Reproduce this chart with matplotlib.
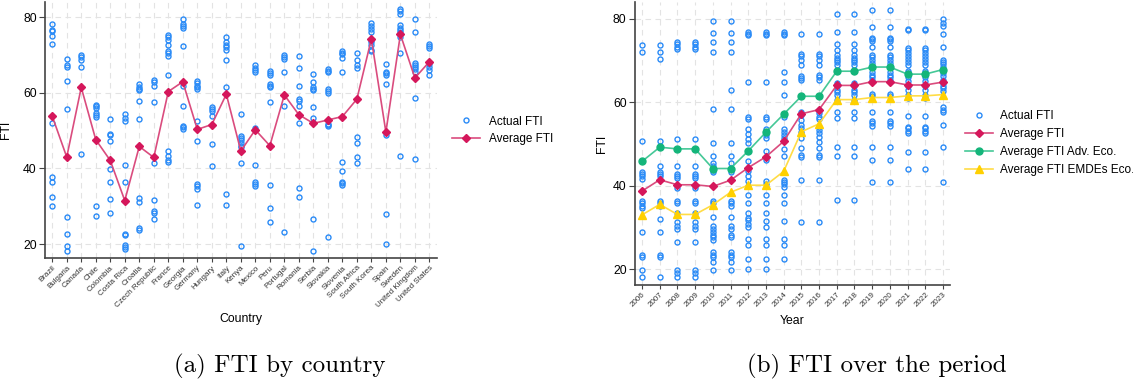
import matplotlib
matplotlib.use("Agg")
import matplotlib.pyplot as plt
import numpy as np

plt.rcParams["font.family"] = ["Liberation Sans", "DejaVu Sans"]

# FTI by country
countries = [
    "Brazil", "Bulgaria", "Canada", "Chile", "Colombia", "Costa Rica", "Croatia",
    "Czech Republic", "France", "Georgia", "Germany", "Hungary", "Italy", "Kenya",
    "Mexico", "Peru", "Portugal", "Romania", "Serbia", "Slovakia", "Slovenia",
    "South Africa", "South Korea", "Spain", "Sweden", "United Kingdom", "United States",
]
actual_by_country = [
    [78.2, 76.6, 76.4, 75.1, 72.9, 52.1, 37.8, 36.3, 32.5, 30.1],
    [68.9, 67.2, 66.7, 63.1, 55.6, 27.1, 22.7, 19.6, 18.2],
    [69.9, 69.4, 68.7, 66.7, 43.9],
    [56.7, 56.4, 56.0, 54.6, 54.1, 53.7, 30.1, 27.3],
    [53.0, 49.2, 48.9, 47.3, 39.8, 36.4, 31.9, 28.1],
    [54.4, 53.4, 52.5, 40.8, 36.5, 31.4, 22.8, 22.3, 19.7, 19.2, 18.8],
    [62.4, 61.5, 60.9, 60.6, 57.7, 53.0, 32.2, 31.0, 24.2, 23.7],
    [63.4, 62.9, 61.8, 57.6, 41.3, 31.6, 28.8, 28.1, 26.5],
    [75.2, 74.7, 73.9, 72.5, 71.1, 70.6, 69.8, 64.6, 44.7, 43.3, 42.3, 41.7],
    [79.6, 78.1, 77.6, 77.2, 72.4, 61.9, 56.4, 51.2, 50.9, 50.4],
    [63.1, 62.5, 61.9, 61.5, 60.9, 52.4, 47.2, 35.8, 35.3, 34.6, 30.2],
    [56.2, 55.7, 55.2, 53.9, 46.5, 40.7],
    [74.6, 73.4, 72.7, 72.1, 71.4, 68.7, 61.6, 33.3, 30.3],
    [54.5, 48.6, 48.1, 47.4, 46.8, 46.0, 45.7, 41.3, 19.6],
    [67.4, 66.6, 66.1, 65.5, 50.8, 40.9, 36.5, 36.0, 35.4],
    [65.7, 65.3, 64.8, 62.4, 61.9, 61.5, 57.5, 35.6, 29.5, 25.8],
    [69.9, 69.4, 69.0, 65.5, 56.5, 23.3],
    [69.8, 66.6, 61.9, 58.4, 57.7, 56.5, 52.1, 34.8, 32.5],
    [65.0, 62.9, 61.5, 61.0, 60.6, 56.1, 53.4, 26.5, 18.1],
    [66.2, 65.8, 65.4, 60.9, 60.5, 60.0, 51.8, 51.4, 51.1, 21.8],
    [71.1, 70.6, 70.2, 69.3, 65.6, 41.7, 39.3, 36.5, 36.1, 35.6],
    [70.5, 68.7, 67.3, 66.6, 48.4, 46.8, 43.1, 41.5],
    [78.4, 77.7, 76.9, 76.1, 74.0, 73.3, 72.6, 71.4, 70.9],
    [67.7, 65.6, 65.2, 64.8, 62.4, 48.8, 28.0, 19.9],
    [82.1, 81.5, 80.8, 77.9, 77.2, 76.6, 76.0, 74.7, 70.5, 43.2],
    [79.6, 76.0, 67.8, 67.3, 66.8, 66.2, 65.6, 58.6, 42.4],
    [72.9, 72.3, 71.7, 67.6, 66.9, 66.1, 64.7],
]
avg_by_country = [
    53.8, 43.0, 61.4, 47.6, 42.1, 31.5, 45.8, 42.9, 60.3, 62.9, 50.3, 51.6, 59.6, 44.6,
    50.2, 46.0, 59.4, 54.2, 51.9, 52.8, 53.7, 58.3, 74.2, 49.6, 75.4, 63.9, 68.2,
]

# FTI over the period
years = [str(y) for y in range(2006, 2024)]
actual_by_year = [
    [73.6, 72.0, 50.7, 43.3, 42.9, 42.3, 41.7, 36.3, 35.8, 35.2, 34.7, 28.8, 23.5, 22.9, 19.7, 18.2],
    [73.6, 72.0, 70.4, 50.7, 44.7, 43.3, 42.9, 42.3, 36.3, 35.8, 35.2, 31.9, 28.8, 23.5, 22.9, 18.2],
    [74.3, 73.8, 73.3, 72.7, 51.1, 44.7, 42.8, 42.3, 41.8, 39.4, 36.4, 35.8, 33.4, 31.2, 30.4, 29.7,
     26.5, 19.8, 19.0, 18.2],
    [74.3, 73.8, 73.3, 72.7, 51.1, 44.7, 42.8, 42.3, 41.8, 39.4, 36.4, 35.8, 33.4, 31.2, 30.4, 29.7,
     26.5, 19.8, 19.0, 18.2],
    [79.5, 76.5, 74.3, 72.0, 58.3, 50.3, 47.0, 45.4, 44.6, 43.8, 43.2, 36.4, 35.8, 32.5, 30.4, 29.7,
     28.9, 28.1, 27.6, 26.9, 24.1, 23.5, 22.9, 21.8, 19.7],
    [79.5, 76.5, 74.3, 72.0, 62.9, 58.3, 50.3, 47.0, 45.4, 44.1, 43.2, 36.4, 35.8, 35.2, 32.5, 30.4,
     29.7, 28.1, 27.6, 24.1, 23.5, 22.9, 21.8, 19.7],
    [76.8, 76.4, 76.0, 64.8, 56.5, 56.0, 53.5, 52.4, 51.2, 50.3, 48.4, 45.8, 43.6, 42.2, 41.0, 39.9,
     37.8, 35.9, 33.4, 32.2, 31.8, 30.8, 30.2, 27.2, 25.8, 22.4, 20.0],
    [76.8, 76.4, 76.0, 64.8, 56.5, 56.0, 53.6, 52.9, 52.1, 51.4, 48.4, 46.8, 46.1, 41.0, 40.4, 37.8,
     35.9, 33.4, 31.6, 30.2, 27.2, 25.8, 22.4, 20.0],
    [76.8, 76.4, 76.0, 67.3, 64.8, 61.7, 56.5, 53.6, 52.9, 52.2, 51.5, 50.8, 48.8, 47.2, 41.4, 40.9,
     40.4, 39.6, 37.8, 35.9, 31.6, 27.2, 25.8, 22.4],
    [76.3, 71.6, 71.0, 70.2, 68.8, 66.2, 65.8, 65.3, 61.4, 57.7, 56.9, 55.7, 54.6, 53.7, 52.9, 51.3,
     48.9, 47.4, 46.8, 41.3, 31.2],
    [76.3, 71.6, 71.0, 70.2, 68.8, 66.5, 65.9, 65.3, 61.4, 58.2, 57.4, 56.5, 55.9, 54.1, 53.3, 52.5,
     51.6, 50.5, 48.9, 47.4, 46.8, 41.3, 31.2],
    [81.0, 76.7, 74.0, 72.4, 71.2, 70.5, 70.0, 69.6, 69.0, 67.4, 64.6, 63.8, 63.0, 62.4, 61.7, 60.5,
     57.7, 56.1, 49.2, 47.2, 36.5],
    [81.0, 76.7, 74.0, 72.4, 71.2, 70.5, 70.0, 69.6, 69.0, 67.4, 64.6, 63.8, 63.0, 62.4, 61.7, 60.5,
     57.7, 56.1, 49.2, 47.2, 36.5],
    [82.0, 77.9, 75.4, 75.0, 74.6, 73.1, 71.2, 70.7, 70.0, 69.4, 68.7, 67.3, 66.5, 65.9, 65.3, 61.9,
     61.4, 57.6, 55.5, 54.9, 54.3, 49.2, 46.1, 40.8],
    [82.0, 77.9, 75.4, 75.0, 74.6, 73.1, 71.2, 70.7, 70.0, 69.4, 68.7, 67.3, 66.5, 65.9, 65.3, 61.9,
     61.4, 57.6, 55.5, 54.9, 54.3, 49.2, 46.1, 40.8],
    [77.6, 77.2, 73.0, 72.4, 71.8, 71.1, 70.4, 69.6, 69.0, 67.5, 66.9, 65.9, 65.1, 63.8, 62.9, 61.7,
     60.9, 56.6, 54.1, 53.7, 53.1, 52.5, 48.1, 43.9],
    [77.6, 77.2, 73.0, 72.4, 71.8, 71.1, 70.4, 69.6, 69.0, 67.5, 66.9, 65.9, 65.1, 63.8, 62.9, 61.7,
     60.9, 56.6, 54.1, 53.7, 53.1, 52.5, 48.1, 43.9],
    [79.8, 79.0, 78.2, 76.2, 73.2, 70.0, 69.6, 69.2, 68.4, 67.8, 67.0, 66.2, 65.4, 64.6, 63.8, 63.4,
     62.7, 58.9, 58.2, 57.6, 54.5, 49.2, 40.8],
]
avg_by_year = [38.7, 41.4, 40.2, 40.2, 39.8, 41.3, 44.3, 46.9, 50.6, 57.2, 58.2, 64.0, 64.0,
               64.9, 64.9, 64.1, 64.1, 64.8]
adv_by_year = [45.8, 49.2, 48.8, 48.8, 44.1, 44.1, 48.3, 52.8, 57.1, 61.4, 61.4, 67.4, 67.4,
               68.4, 68.4, 66.7, 66.7, 67.8]
emde_by_year = [33.0, 35.5, 33.1, 33.1, 35.4, 38.4, 40.1, 40.1, 43.4, 52.9, 54.8, 60.6, 60.6,
                61.1, 61.1, 61.5, 61.5, 61.8]

BLUE = "#2A8BF7"
RED = "#D5175B"
RED_LINE = "#DA4C7E"
GREEN = "#14B57A"
GREEN_LINE = "#45C897"
YELLOW = "#FFD000"
YELLOW_LINE = "#FFDC45"
SPINE = "#444444"
FS = 8.5


def scatter_groups(ax, groups):
    xs, ys = [], []
    for i, vals in enumerate(groups):
        xs.extend([i] * len(vals))
        ys.extend(vals)
    ax.plot(xs, ys, linestyle="none", marker="o", markersize=3.6, markerfacecolor="none",
            markeredgecolor=BLUE, markeredgewidth=1.0, label="Actual FTI", zorder=2)


def style_axes(ax, labels, ylim):
    ax.set_xticks(np.arange(len(labels)))
    ax.set_xticklabels(labels, rotation=45, ha="right", rotation_mode="anchor", fontsize=5.8,
                       color="#333333")
    ax.set_yticks([20, 40, 60, 80])
    ax.tick_params(axis="y", labelsize=FS + 0.3, length=4, width=0.8, color=SPINE, pad=2)
    ax.tick_params(axis="x", length=3, width=0.8, color=SPINE, pad=1.5)
    ax.set_xlim(-0.5, len(labels) - 0.5)
    ax.set_ylim(*ylim)
    ax.grid(True, color="#E3E3E3", linestyle=(0, (5, 4)), linewidth=0.8)
    ax.set_axisbelow(True)
    for side in ("top", "right"):
        ax.spines[side].set_visible(False)
    for side in ("left", "bottom"):
        ax.spines[side].set_color(SPINE)
        ax.spines[side].set_linewidth(1.2)
    ax.set_ylabel("FTI", fontsize=FS + 0.3)


fig = plt.figure(figsize=(11.33, 3.79), dpi=100)

# (a) by country
ax1 = fig.add_axes([0.0397, 0.319, 0.3457, 0.676])
scatter_groups(ax1, actual_by_country)
ax1.plot(np.arange(len(countries)), avg_by_country, color=RED_LINE, linewidth=1.2, marker="D",
         markersize=4.5, markerfacecolor=RED, markeredgecolor=RED, label="Average FTI", zorder=3)
style_axes(ax1, countries, (16.3, 84.0))
ax1.set_xlabel("Country", fontsize=FS + 0.3)
ax1.xaxis.set_label_coords(0.5, -0.215)
ax1.yaxis.set_label_coords(-0.085, 0.5)
ax1.legend(loc="center left", bbox_to_anchor=(446 / 1133, 1 - 130.5 / 379),
           bbox_transform=fig.transFigure, frameon=False, fontsize=FS, borderpad=0,
           handlelength=2.4, handletextpad=0.75, labelspacing=0.5)

# (b) over the period
ax2 = fig.add_axes([0.5604, 0.248, 0.2781, 0.747])
x = np.arange(len(years))
scatter_groups(ax2, actual_by_year)
ax2.plot(x, avg_by_year, color=RED_LINE, linewidth=1.2, marker="D", markersize=4.5,
         markerfacecolor=RED, markeredgecolor=RED, label="Average FTI", zorder=3)
ax2.plot(x, adv_by_year, color=GREEN_LINE, linewidth=1.2, marker="o", markersize=5,
         markerfacecolor=GREEN, markeredgecolor=GREEN, label="Average FTI Adv. Eco.", zorder=3)
ax2.plot(x, emde_by_year, color=YELLOW_LINE, linewidth=1.2, marker="^", markersize=5.5,
         markerfacecolor=YELLOW, markeredgecolor=YELLOW, label="Average FTI EMDEs Eco.", zorder=3)
style_axes(ax2, years, (16.2, 84.0))
ax2.set_xlim(-0.4, len(years) - 0.6)
ax2.set_xlabel("Year", fontsize=FS + 0.3)
ax2.xaxis.set_label_coords(0.5, -0.105)
ax2.yaxis.set_label_coords(-0.085, 0.5)
ax2.legend(loc="center left", bbox_to_anchor=(959 / 1133, 1 - 143.2 / 379),
           bbox_transform=fig.transFigure, frameon=False, fontsize=FS, borderpad=0,
           handlelength=2.4, handletextpad=0.6, labelspacing=0.5)

fig.text(280 / 1133, 1 - 372 / 379, "(a) FTI by country", family="cmr10", fontsize=18,
         ha="center", va="baseline")
fig.text(877 / 1133, 1 - 372 / 379, "(b) FTI over the period", family="cmr10", fontsize=18,
         ha="center", va="baseline")

fig.savefig("out.png", dpi=100)
